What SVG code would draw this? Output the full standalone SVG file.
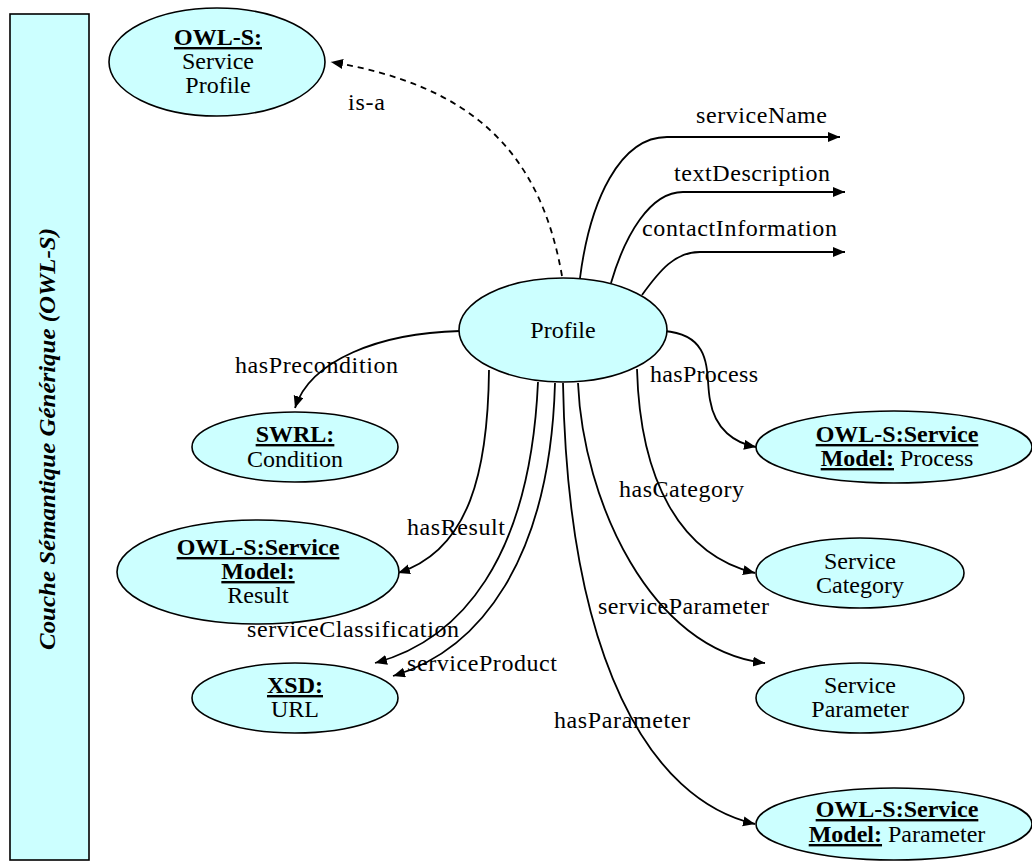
<svg xmlns="http://www.w3.org/2000/svg" width="1032" height="862" viewBox="0 0 1032 862">
<defs>
<marker id="arr" markerUnits="userSpaceOnUse" markerWidth="13" markerHeight="11" refX="12" refY="5" orient="auto">
<path d="M0,0 L12,5 L0,10 z" fill="#000"/>
</marker>
<style>
.node{fill:#CCFFFF;stroke:#000;stroke-width:1.6}
.t{font-size:24px;fill:#000}
.c{text-anchor:middle}
.b{font-weight:bold;text-decoration:underline}
.e{fill:none;stroke:#000;stroke-width:1.8;marker-end:url(#arr)}
.d{stroke-dasharray:6,5}
</style>
</defs>
<rect width="1032" height="862" fill="#fff"/>
<g font-family="'Liberation Serif', 'Times New Roman', Times, serif">
<g id="layer">
<rect x="10" y="14" width="79" height="846" class="node"/>
<text class="t" transform="translate(55,439) rotate(-90)" text-anchor="middle" font-size="25" font-weight="bold" font-style="italic" textLength="422" lengthAdjust="spacingAndGlyphs">Couche Sémantique Générique (OWL-S)</text>
</g>
<g id="connectors">
<path class="e d" d="M562 276 C540 150 470 85 331 62"/>
<path class="e" d="M580 278 C590 200 620 137 667 137 L840 137"/>
<path class="e" d="M611 283 C625 235 650 192 683 192 L845 192"/>
<path class="e" d="M642 295 C660 270 675 252 700 252 L845 252"/>
<path class="e" d="M460 331 C380 333 310 360 295 408"/>
<path class="e" d="M489 370 C488 470 470 550 398 573"/>
<path class="e" d="M538 382 C530 560 460 640 375 663"/>
<path class="e" d="M555 383 C550 560 480 650 393 676"/>
<path class="e" d="M563 383 C568 660 650 800 755 824"/>
<path class="e" d="M578 383 C583 500 650 650 765 663"/>
<path class="e" d="M637 369 C640 480 680 555 755 573"/>
<path class="e" d="M664 331 C715 335 705 375 710 400 C715 430 735 443 756 447"/>
<text class="t" x="348" y="110" textLength="37">is-a</text>
<text class="t" x="696" y="123" textLength="131">serviceName</text>
<text class="t" x="674" y="181" textLength="156">textDescription</text>
<text class="t" x="642" y="236" textLength="195">contactInformation</text>
<text class="t" x="235" y="373" textLength="163">hasPrecondition</text>
<text class="t" x="650" y="382" textLength="108">hasProcess</text>
<text class="t" x="619" y="497" textLength="125">hasCategory</text>
<text class="t" x="407" y="535" textLength="98">hasResult</text>
<text class="t" x="598" y="614" textLength="171">serviceParameter</text>
<text class="t" x="247" y="637" textLength="212">serviceClassification</text>
<text class="t" x="407" y="671" textLength="150">serviceProduct</text>
<text class="t" x="554" y="728" textLength="136">hasParameter</text>
</g>
<g id="n-serviceprofile">
<ellipse cx="217" cy="62" rx="108" ry="54" class="node"/>
<text class="t c b" x="218" y="45">OWL-S:</text>
<text class="t c" x="218" y="69">Service</text>
<text class="t c" x="218" y="93">Profile</text>
</g>
<g id="n-profile">
<ellipse cx="563" cy="330" rx="104" ry="52" class="node"/>
<text class="t c" x="563" y="338">Profile</text>
</g>
<g id="n-swrl">
<ellipse cx="295" cy="447" rx="103" ry="35" class="node"/>
<text class="t c b" x="295" y="442">SWRL:</text>
<text class="t c" x="295" y="467">Condition</text>
</g>
<g id="n-result">
<ellipse cx="258" cy="572" rx="141" ry="52" class="node"/>
<text class="t c b" x="258" y="555">OWL-S:Service</text>
<text class="t c b" x="258" y="579">Model:</text>
<text class="t c" x="258" y="603">Result</text>
</g>
<g id="n-url">
<ellipse cx="295" cy="698" rx="103" ry="35" class="node"/>
<text class="t c b" x="295" y="693">XSD:</text>
<text class="t c" x="295" y="717">URL</text>
</g>
<g id="n-process">
<ellipse cx="894" cy="447" rx="138" ry="36" class="node"/>
<text class="t c b" x="897" y="442">OWL-S:Service</text>
<text class="t c" x="897" y="466"><tspan class="b">Model:</tspan> Process</text>
</g>
<g id="n-category">
<ellipse cx="860" cy="573" rx="104" ry="35" class="node"/>
<text class="t c" x="860" y="569">Service</text>
<text class="t c" x="860" y="593">Category</text>
</g>
<g id="n-sparameter">
<ellipse cx="860" cy="698" rx="104" ry="35" class="node"/>
<text class="t c" x="860" y="693">Service</text>
<text class="t c" x="860" y="717">Parameter</text>
</g>
<g id="n-parameter">
<ellipse cx="894" cy="824" rx="138" ry="36" class="node"/>
<text class="t c b" x="897" y="817">OWL-S:Service</text>
<text class="t c" x="897" y="842"><tspan class="b">Model:</tspan> Parameter</text>
</g>
</g>
</svg>
